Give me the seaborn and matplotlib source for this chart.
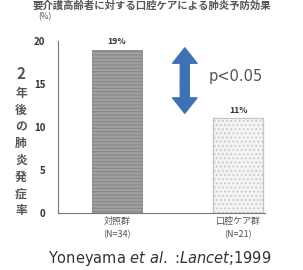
import matplotlib
matplotlib.use("Agg")
import matplotlib.pyplot as plt
import seaborn as sns
import pandas as pd

# ---- data ----
categories = ["対照群\n(N=34)", "口腔ケア群\n(N=21)"]
values = [19, 11]
value_labels = ["19%", "11%"]
y_ticks = [0, 5, 10, 15, 20]
ylabel_num = "2"
ylabel_text = "年後の肺炎発症率"
unit_label = "(%)"
p_label = "p<0.05"
title_text = "要介護高齢者に対する口腔ケアによる肺炎予防効果"

sns.set_theme(style="white")
plt.rcParams["font.family"] = ["Noto Sans CJK JP", "DejaVu Sans"]
plt.rcParams["hatch.linewidth"] = 0.7

df = pd.DataFrame({"group": categories, "rate": values})

fig = plt.figure(figsize=(3.03, 2.70), dpi=100)
ax = fig.add_axes([58 / 303, 1 - 213 / 270, (265 - 58) / 303, (213 - 41) / 270])

sns.barplot(data=df, x="group", y="rate", hue="group",
            palette=["#a0a0a0", "#f3f3f3"], width=0.41, ax=ax,
            legend=False, saturation=1)

hatches = ["-----", "...."]
edges = ["#858585", "#c4c4c4"]
for patch, h, ec in zip(ax.patches, hatches, edges):
    patch.set_hatch(h)
    patch.set_edgecolor(ec)
    patch.set_linewidth(0.6)
ax.patches[1].set_linewidth(0.9)

ax.set_ylim(0, 20)
ax.set_xlim(-0.488, 1.223)
ax.set_yticks(y_ticks)
ax.set_yticklabels([str(t) for t in y_ticks], fontsize=7, color="#333333",
                   fontweight="bold")
ax.set_xticks([0, 1])
ax.set_xticklabels(categories, fontsize=6.5, color="#555555", linespacing=1.55)
ax.set_xlabel("")
ax.set_ylabel("")
ax.tick_params(axis="y", length=2, width=0.6, color="#777777", pad=7)
ax.tick_params(axis="x", length=0, pad=3)
for s in ["top", "right"]:
    ax.spines[s].set_visible(False)
for s in ["left", "bottom"]:
    ax.spines[s].set_color("#777777")
    ax.spines[s].set_linewidth(0.8)

# value labels
for i, (v, lab) in enumerate(zip(values, value_labels)):
    ax.text(i, v + 0.45, lab, ha="center", va="bottom", fontsize=6.2,
            fontweight="bold", color="#333333")

# double arrow
arrow_x = 0.56
mid = 15.4
for end in (19.2, 11.6):
    ax.annotate("", xy=(arrow_x, end), xytext=(arrow_x, mid),
                arrowprops=dict(arrowstyle="simple,head_length=0.85,head_width=1.35,tail_width=0.5",
                                color="#3f71b6", mutation_scale=13,
                                shrinkA=0, shrinkB=0))
ax.text(0.76, 15.9, p_label, ha="left", va="center", fontsize=10.5,
        color="#555555", family="DejaVu Sans")

# unit label
fig.text(45 / 303, 1 - 17 / 270, unit_label, ha="center", va="center",
         fontsize=6, color="#555555")

# vertical y label
fig.text(21 / 303, 1 - 74 / 270, ylabel_num, ha="center", va="center",
         fontsize=11, fontweight="bold", color="#555555")
fig.text(21 / 303, 1 - 152 / 270, "\n".join(ylabel_text), ha="center",
         va="center", fontsize=8.5, color="#555555", linespacing=1.38,
         fontweight="bold")

# title line at the very top
fig.text(0.5, 1 - 1 / 270, title_text, ha="center", va="top", fontsize=7.5,
         color="#555555", fontweight="bold")

# citation
fig.text(160 / 303, 1 - 258 / 270,
         r"Yoneyama $\it{et\ al.}$ :$\it{Lancet}$;1999",
         ha="center", va="center", fontsize=10.5, color="#333333",
         family="DejaVu Sans")

fig.savefig("out.png", dpi=100)
